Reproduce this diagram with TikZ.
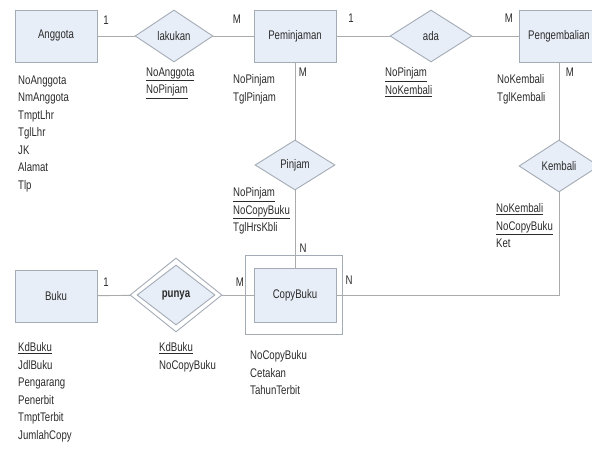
\documentclass[tikz,border=0pt]{standalone}
\usepackage{fontspec}
\setmainfont[FakeStretch=0.77]{Liberation Sans}
\usetikzlibrary{shapes.geometric}
\definecolor{entfill}{HTML}{E8EEF7}
\definecolor{entdraw}{HTML}{A3ABB5}
\definecolor{linkcol}{HTML}{ABABAB}
\definecolor{txt}{HTML}{2B2B2B}
\begin{document}
\begin{tikzpicture}[x=1pt,y=-1pt,
  every node/.style={text=txt, font=\fontsize{12.5}{17.5}\selectfont},
  entity/.style={draw=entdraw, fill=entfill, line width=0.9pt,
    minimum width=82pt, minimum height=52pt, inner sep=0},
  rel/.style={diamond, draw=entdraw, fill=entfill, line width=0.9pt,
    minimum width=78pt, minimum height=52pt, inner sep=0},
  attrs/.style={anchor=north west, align=left, inner sep=0},
  card/.style={inner sep=0},
  link/.style={draw=linkcol, line width=0.9pt}]
\clip (0,0) rectangle (592,470);
\useasboundingbox (0,0) rectangle (592,470);

% entities and relationships
\node[entity] (anggota) at (56,36) {Anggota};
\node[rel] (lakukan) at (174,36) {lakukan};
\node[entity] (peminjaman) at (295,36) {Peminjaman};
\node[rel, minimum width=82pt] (ada) at (431,36) {ada};
\node[entity, minimum width=80pt] (pengembalian) at (559,36) {Pengembalian};
\node[rel, minimum width=80pt, minimum height=50pt] (pinjam) at (295,165) {Pinjam};
\node[rel, minimum width=80pt] (kembali) at (559,166) {Kembali};
\node[entity] (buku) at (56,296) {Buku};
\node[diamond, draw=entdraw, line width=0.9pt, minimum width=92pt,
  minimum height=74pt, inner sep=0] (punyaouter) at (176,295) {};
\node[rel, minimum width=78pt, minimum height=60pt] (punya) at (176,295) {\bfseries punya};
\node[entity, minimum height=54pt] (copybuku) at (295,295) {CopyBuku};
\node[draw=entdraw, line width=0.9pt, minimum width=97pt, minimum height=79pt,
  inner sep=0] (copyframe) at (294,294.5) {};

% connectors
\draw[link] (anggota) -- (lakukan);
\draw[link] (lakukan) -- (peminjaman);
\draw[link] (peminjaman) -- (ada);
\draw[link] (ada) -- (pengembalian);
\draw[link] (peminjaman) -- (pinjam);
\draw[link] (pinjam) -- (copybuku);
\draw[link] (pengembalian) -- (kembali);
\draw[link] (kembali) |- (copybuku.east);
\draw[link] (buku) -- (punyaouter);
\draw[link] (punyaouter) -- (copybuku);

% cardinalities
\node[card] (c1) at (106,20) {1};
\node[card] (c2) at (237,19) {M};
\node[card] (c3) at (351,18) {1};
\node[card] (c4) at (509,18) {M};
\node[card] (c5) at (303,72) {M};
\node[card] (c6) at (570,72) {M};
\node[card] (c7) at (303,248) {N};
\node[card] (c8) at (349,280) {N};
\node[card] (c9) at (106,282) {1};
\node[card] (c10) at (240,282) {M};

% attributes
\node[attrs] (aanggota) at (18,75.5)
  {NoAnggota\\NmAnggota\\TmptLhr\\TglLhr\\JK\\Alamat\\Tlp};
\node[attrs] (alakukan) at (146,67.5)
  {\underline{NoAnggota}\\\underline{NoPinjam}};
\node[attrs] (apeminjaman) at (233,74.5) {NoPinjam\\TglPinjam};
\node[attrs] (aada) at (385,67.5)
  {\underline{NoPinjam}\\\underline{NoKembali}};
\node[attrs] (apengembalian) at (497,74.5) {NoKembali\\TglKembali};
\node[attrs] (apinjam) at (233,187.5)
  {\underline{NoPinjam}\\\underline{NoCopyBuku}\\TglHrsKbli};
\node[attrs] (akembali) at (496,203.5)
  {\underline{NoKembali}\\\underline{NoCopyBuku}\\Ket};
\node[attrs] (abuku) at (18,342.5)
  {\underline{KdBuku}\\JdlBuku\\Pengarang\\Penerbit\\TmptTerbit\\JumlahCopy};
\node[attrs] (apunya) at (159,342.5) {\underline{KdBuku}\\NoCopyBuku};
\node[attrs] (acopybuku) at (250,350.5) {NoCopyBuku\\Cetakan\\TahunTerbit};
\end{tikzpicture}
\end{document}
